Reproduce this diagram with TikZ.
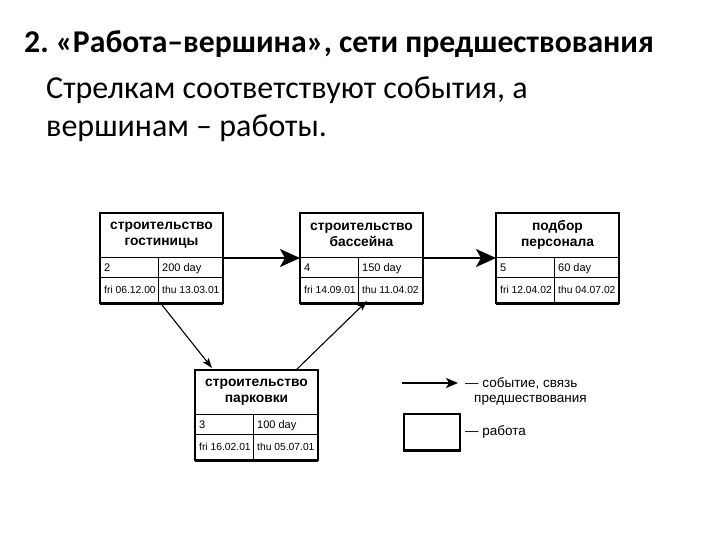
\documentclass[tikz,border=0pt]{standalone}
\usepackage{fontspec}
\setmainfont{Liberation Sans}
\newfontfamily\titlefont{Carlito}
\usetikzlibrary{arrows.meta,calc}
\frenchspacing
\tikzset{
  actbox/.style={draw=black, line width=2.2pt, minimum width=123pt, minimum height=90pt, inner sep=0pt, outer sep=0pt},
  inner/.style={line width=1pt},
  hdr/.style={font=\fontsize{13.8}{16.5}\selectfont\bfseries, align=center, inner sep=0pt},
  cell/.style={font=\fontsize{11}{12}\selectfont, anchor=base west, inner sep=0pt},
  bigarrow/.style={line width=2pt, -{Stealth[length=20pt,width=18pt,inset=5pt]}},
  diagarrow/.style={line width=1.1pt, -{Stealth[length=10pt,width=7pt,inset=2pt]}},
  legarrow/.style={line width=1.8pt, -{Stealth[length=12pt,width=10pt,inset=3pt]}},
  legtext/.style={font=\fontsize{13.5}{15}\selectfont, anchor=west, inner sep=0pt},
}
% #1 name, #2 x, #3 y, #4 header, #5 num, #6 dur, #7 start, #8 end
\newcommand{\actbox}[8]{%
  \node[actbox, anchor=north west] (#1) at (#2,#3) {};
  \draw[inner] ([yshift=-44pt]#1.north west) -- ([yshift=-44pt]#1.north east);
  \draw[inner] ([yshift=-64pt]#1.north west) -- ([yshift=-64pt]#1.north east);
  \draw[inner] ([xshift=58pt,yshift=-44pt]#1.north west) -- ([xshift=58pt]#1.south west);
  \draw[line width=1.2pt] ([yshift=-1pt]#1.south west) -- ([yshift=-1pt]#1.south east);
  \node[hdr] (#1h) at ([yshift=-22pt]#1.north) {#4};
  \node[cell] (#1n) at ([xshift=4pt,yshift=-58.5pt]#1.north west) {#5};
  \node[cell] (#1d) at ([xshift=62pt,yshift=-58.5pt]#1.north west) {#6};
  \node[cell] (#1s) at ([xshift=4pt,yshift=-80.5pt]#1.north west) {\fontsize{10.3}{11}\selectfont #7};
  \node[cell] (#1e) at ([xshift=62pt,yshift=-80.5pt]#1.north west) {\fontsize{10.3}{11}\selectfont #8};
}
\begin{document}
\begin{tikzpicture}[x=1pt,y=-1pt]
\useasboundingbox (0,0) rectangle (720,540);
\node[anchor=west, inner sep=0pt, font=\titlefont\bfseries\fontsize{31.7}{34}\selectfont] (title) at (24,44) {2. «Работа–вершина», сети предшествования};
\node[anchor=west, inner sep=0pt, font=\titlefont\fontsize{32}{34}\selectfont] (l1) at (46,90) {Стрелкам соответствуют события, а};
\node[anchor=west, inner sep=0pt, font=\titlefont\fontsize{32}{34}\selectfont] (l2) at (46,128) {вершинам – работы.};

\actbox{b1}{100}{213}{строительство\\гостиницы}{2}{200 day}{fri 06.12.00}{thu 13.03.01}
\actbox{b2}{300}{213}{строительство\\бассейна}{4}{150 day}{fri 14.09.01}{thu 11.04.02}
\actbox{b3}{496}{213}{подбор\\персонала}{5}{60 day}{fri 12.04.02}{thu 04.07.02}
\actbox{b4}{195}{370}{строительство\\парковки}{3}{100 day}{fri 16.02.01}{thu 05.07.01}

\draw[bigarrow] (b1.east) -- (b2.west);
\draw[bigarrow] (b2.east) -- (b3.west);
\draw[diagarrow] ([xshift=62pt,yshift=-2pt]b1.south west) -- ([xshift=17pt,yshift=2pt]b4.north west);
\draw[diagarrow] ([xshift=101pt,yshift=0pt]b4.north west) -- ([xshift=67pt,yshift=2pt]b2.south west);

% legend
\coordinate (la) at (402,383);
\coordinate (lb) at (458,383);
\draw[legarrow] (la) -- (lb);
\node[legtext] (lt1) at (465,383) {— событие, связь};
\node[legtext] (lt2) at (474,400) {предшествования};
\node[draw=black, line width=1.5pt, minimum width=56pt, minimum height=36pt, inner sep=0pt, anchor=north west] (lbox) at (403,413) {};
\draw[line width=1.5pt] ([yshift=-1pt]lbox.south west) -- ([yshift=-1pt]lbox.south east);
\node[legtext] (lt3) at (465,432) {— работа};
\end{tikzpicture}
\end{document}
